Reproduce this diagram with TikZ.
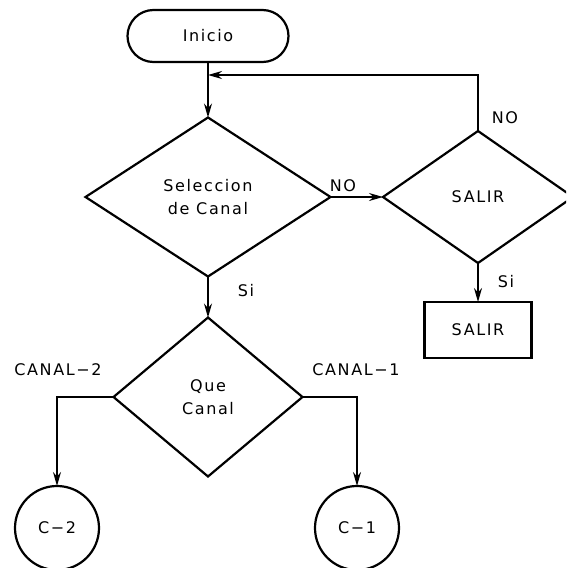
\documentclass[tikz,border=0pt]{standalone}
\usepackage{fontspec}
\setmainfont{DejaVu Sans}[LetterSpace=10]
\usetikzlibrary{shapes.geometric, arrows.meta}

\begin{document}
\begin{tikzpicture}[
    x=1pt, y=-1pt,
    line width=2.2pt,
    font=\fontsize{16}{23}\selectfont,
    inicio/.style={rectangle, draw, rounded corners=26pt, minimum width=161pt, minimum height=52pt, outer sep=0pt},
    decision/.style={diamond, draw, align=center, inner sep=0pt, outer sep=0pt},
    caja/.style={rectangle, draw, minimum width=107pt, minimum height=56pt, outer sep=0pt},
    conector/.style={circle, draw, minimum size=84pt, outer sep=0pt},
    etiqueta/.style={inner sep=0pt},
    arrow/.style={-{Stealth[length=14pt, width=8pt]}, line width=1.8pt}
]
\clip (0,0) rectangle (566,568);

% Inicio y seleccion
\node[inicio] (inicio) at (208,36) {Inicio};
\node[decision, minimum width=245pt, minimum height=159pt] (seleccion) at (208,197) {Seleccion\\de Canal};
\coordinate (retorno) at (208,75);

% Salida
\node[decision, minimum width=190pt, minimum height=132pt] (salir) at (478,197) {SALIR};
\node[caja] (fin) at (478,330) {SALIR};

% Canales
\node[decision, minimum width=189pt, minimum height=159pt] (canal) at (208,397) {Que\\Canal};
\node[conector] (c2) at (57,528) {C−2};
\node[conector] (c1) at (357,528) {C−1};

% Etiquetas
\node[etiqueta] (no_sel) at (343,186) {NO};
\node[etiqueta] (no_salir) at (505,118) {NO};
\node[etiqueta] (si_salir) at (506,282) {Si};
\node[etiqueta] (si_sel) at (246,291) {Si};
\node[etiqueta] (lbl_c2) at (58,370) {CANAL−2};
\node[etiqueta] (lbl_c1) at (356,370) {CANAL−1};

% Conexiones
\draw[arrow] (inicio.south) -- (seleccion.north);
\draw[arrow] (seleccion.east) -- (salir.west);
\draw[arrow] (salir.north) |- (retorno);
\draw[arrow] (salir.south) -- (fin.north);
\draw[arrow] (seleccion.south) -- (canal.north);
\draw[arrow] (canal.west) -| (c2.north);
\draw[arrow] (canal.east) -| (c1.north);

\end{tikzpicture}
\end{document}
